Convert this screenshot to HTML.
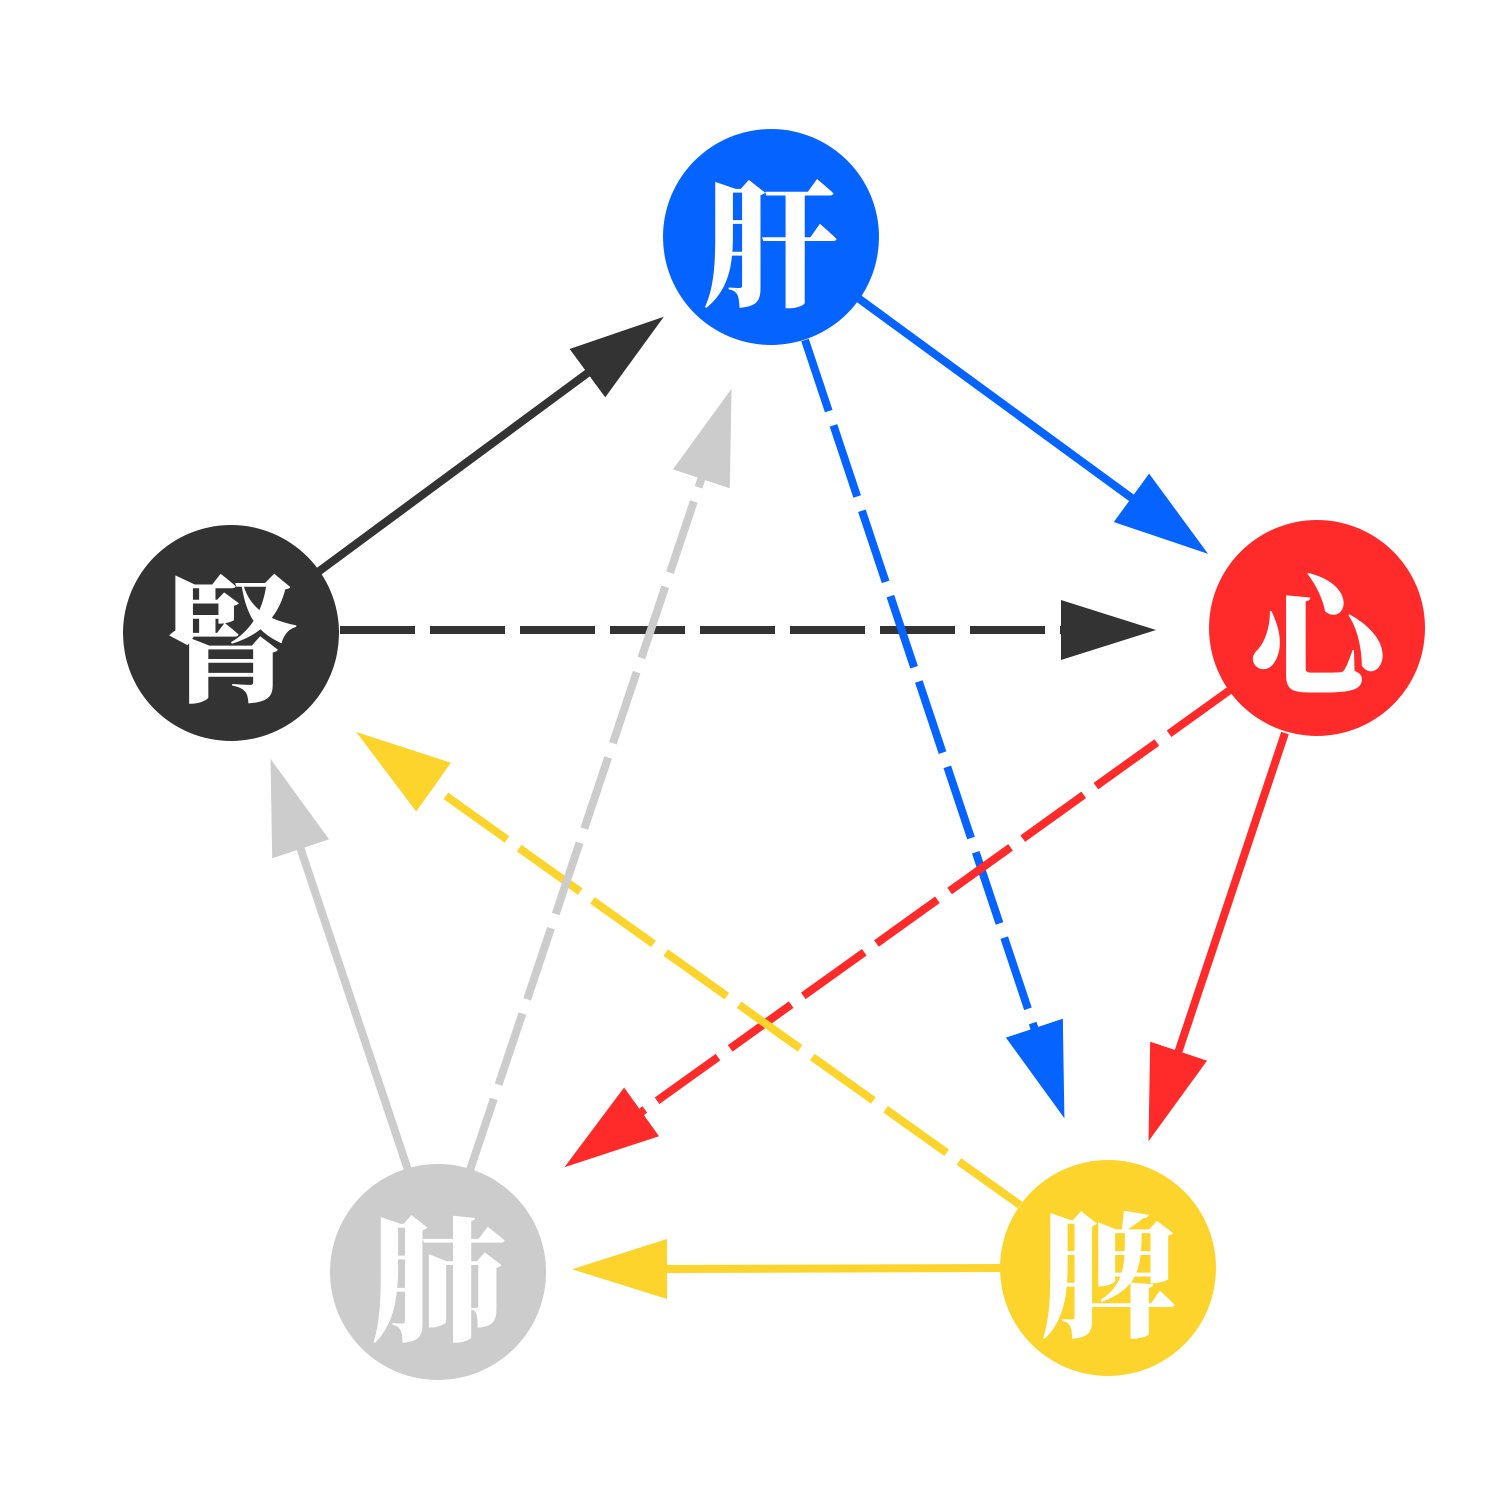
<!DOCTYPE html>
<html><head><meta charset="utf-8"><style>html,body{margin:0;padding:0;background:#fff}</style></head>
<body>
<svg width="1500" height="1500" viewBox="0 0 1500 1500" xmlns="http://www.w3.org/2000/svg">
<defs>
<marker id="k" viewBox="0 0 95 60" markerWidth="95" markerHeight="60" markerUnits="userSpaceOnUse" refX="2" refY="30" orient="auto"><path d="M0,0L95,30L0,60z" fill="#333"/></marker>
<marker id="b" viewBox="0 0 95 60" markerWidth="95" markerHeight="60" markerUnits="userSpaceOnUse" refX="2" refY="30" orient="auto"><path d="M0,0L95,30L0,60z" fill="#0563ff"/></marker>
<marker id="r" viewBox="0 0 95 60" markerWidth="95" markerHeight="60" markerUnits="userSpaceOnUse" refX="2" refY="30" orient="auto"><path d="M0,0L95,30L0,60z" fill="#ff2b2b"/></marker>
<marker id="y" viewBox="0 0 95 60" markerWidth="95" markerHeight="60" markerUnits="userSpaceOnUse" refX="2" refY="30" orient="auto"><path d="M0,0L95,30L0,60z" fill="#fcd42b"/></marker>
<marker id="g" viewBox="0 0 95 60" markerWidth="95" markerHeight="60" markerUnits="userSpaceOnUse" refX="2" refY="30" orient="auto"><path d="M0,0L95,30L0,60z" fill="#cccccc"/></marker>
</defs>
<g stroke-width="8" fill="none">
<line x1="318" y1="572" x2="589" y2="372" stroke="#333" marker-end="url(#k)"/>
<line x1="340" y1="630" x2="1063" y2="630" stroke="#333" stroke-dasharray="75,15" marker-end="url(#k)"/>
<line x1="858" y1="298" x2="1133" y2="499" stroke="#0563ff" marker-end="url(#b)"/>
<line x1="805" y1="340" x2="1035" y2="1030" stroke="#0563ff" stroke-dasharray="75,15" marker-end="url(#b)"/>
<line x1="1285" y1="733" x2="1178" y2="1053" stroke="#ff2b2b" marker-end="url(#r)"/>
<line x1="1230" y1="690" x2="640" y2="1113" stroke="#ff2b2b" stroke-dasharray="75,15" marker-end="url(#r)"/>
<line x1="1000" y1="1268" x2="665" y2="1269" stroke="#fcd42b" marker-end="url(#y)"/>
<line x1="1020" y1="1205" x2="432" y2="786" stroke="#fcd42b" stroke-dasharray="75,15" marker-end="url(#y)"/>
<line x1="408" y1="1170" x2="300" y2="847" stroke="#cccccc" marker-end="url(#g)"/>
<line x1="470" y1="1170" x2="702" y2="477" stroke="#cccccc" stroke-dasharray="75,15" marker-end="url(#g)"/>
</g>
<circle cx="771" cy="237" r="108" fill="#0563ff"/>
<circle cx="1317" cy="628" r="108" fill="#ff2b2b"/>
<circle cx="1108" cy="1268" r="108" fill="#fcd42b"/>
<circle cx="438" cy="1272" r="108" fill="#cccccc"/>
<circle cx="231" cy="633" r="108" fill="#333"/>
<g fill="#fff" font-family="'Noto Serif CJK SC','Noto Serif CJK TC','Noto Sans CJK SC',serif" font-weight="900" font-size="135" text-anchor="middle" dominant-baseline="central">
<text x="771" y="237">肝</text>
<text x="1317" y="628">心</text>
<text x="1108" y="1268">脾</text>
<text x="438" y="1272">肺</text>
<text x="231" y="633">腎</text>
</g>
</svg>
</body></html>
